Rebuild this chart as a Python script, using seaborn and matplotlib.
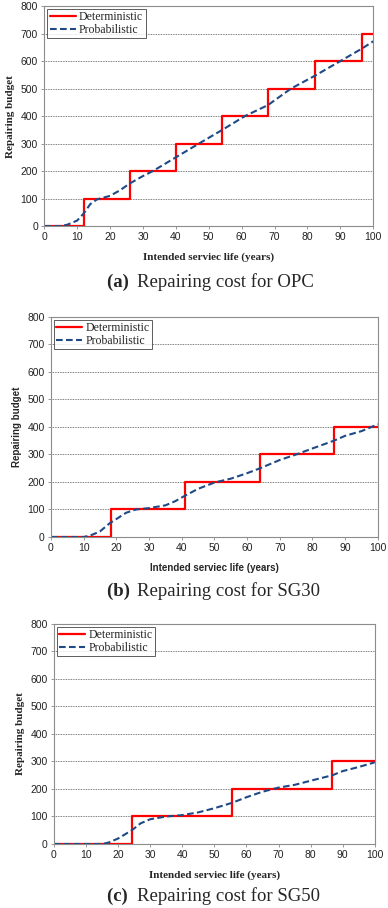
import numpy as np
import matplotlib
matplotlib.use("Agg")
import matplotlib.pyplot as plt
import seaborn as sns

# ---------- data ----------
# deterministic repair steps (year of repair -> cumulative budget)
opc_step_x = [0, 12, 26, 40, 54, 68, 82.3, 96.5, 100]
opc_step_y = [0, 100, 200, 300, 400, 500, 600, 700, 700]
sg30_step_x = [0, 18.3, 41, 64, 86.5, 100]
sg30_step_y = [0, 100, 200, 300, 400, 400]
sg50_step_x = [0, 24.3, 55.6, 86.8, 100]
sg50_step_y = [0, 100, 200, 300, 300]

# probabilistic expected budget
opc_prob_x = [0, 5, 7, 10, 12, 14, 16, 20, 23, 26, 30, 33, 40, 47, 54, 61, 68, 75, 82, 90, 96.5, 100]
opc_prob_y = [0, 0, 5, 20, 46, 80, 97, 110, 130, 155, 182, 200, 250, 300, 349, 400, 440, 500, 545, 600, 645, 672]
sg30_prob_x = [0, 10, 12, 15, 18, 20, 23, 26, 30, 35, 38, 41, 45, 50, 55, 60, 64, 70, 75, 80, 86.5, 90, 95, 100]
sg30_prob_y = [0, 0, 5, 20, 50, 65, 88, 100, 105, 115, 130, 150, 175, 198, 212, 232, 250, 280, 300, 322, 350, 368, 385, 410]
sg50_prob_x = [0, 15, 17, 20, 24.3, 27, 30, 35, 40, 45, 50, 55.6, 60, 65, 70, 75, 80, 86.8, 90, 95, 100]
sg50_prob_y = [0, 0, 5, 20, 50, 75, 90, 100, 105, 115, 130, 150, 170, 190, 205, 215, 230, 250, 265, 280, 297]

panels = [
    ("(a)", "Repairing cost for OPC", opc_step_x, opc_step_y, opc_prob_x, opc_prob_y, "serif"),
    ("(b)", "Repairing cost for SG30", sg30_step_x, sg30_step_y, sg30_prob_x, sg30_prob_y, "sans"),
    ("(c)", "Repairing cost for SG50", sg50_step_x, sg50_step_y, sg50_prob_x, sg50_prob_y, "serif"),
]

# axes rectangles in figure fractions [left, bottom, width, height]
rects = [
    [0.114, 0.751, 0.848, 0.2423],
    [0.131, 0.4086, 0.843, 0.2423],
    [0.139, 0.0705, 0.827, 0.2423],
]
caption_y = [0.684, 0.3436, 0.008]
caption_x = 0.276

sns.set_theme(style="white")
plt.rcParams["font.family"] = ["Liberation Sans", "DejaVu Sans"]

fig = plt.figure(figsize=(3.88, 9.08), dpi=100)

for (tag, cap, sx, sy, px, py, lab_font), rect, cy in zip(panels, rects, caption_y):
    ax = fig.add_axes(rect)
    sns.lineplot(x=sx, y=sy, ax=ax, color="#ff0000", lw=1.6,
                 drawstyle="steps-post", label="Deterministic")
    sns.lineplot(x=px, y=py, ax=ax, color="#1f4a86", lw=1.5,
                 linestyle=(0, (3.2, 1.6)), label="Probabilistic")

    ax.set_xlim(0, 100)
    ax.set_ylim(0, 800)
    ax.set_xticks(np.arange(0, 101, 10))
    ax.set_yticks(np.arange(0, 801, 100))
    ax.tick_params(labelsize=7.5, length=2.5, width=0.6, color="#888888",
                   direction="out", bottom=True, left=True, pad=2, labelcolor="#222222")
    ax.yaxis.grid(True, color="#555555", linestyle=(0, (1, 1)), lw=0.6)
    for s in ax.spines.values():
        s.set_color("#8c8c8c")
        s.set_linewidth(0.8)

    if lab_font == "serif":
        fam, fs = ["Liberation Serif"], 8
    else:
        fam, fs = ["Liberation Sans"], 7
    ax.set_ylabel("Repairing budget", fontsize=fs, fontweight="bold", family=fam, labelpad=4)
    ax.set_xlabel("Intended serviec life (years)", fontsize=fs, fontweight="bold", family=fam, labelpad=7)

    leg = ax.legend(loc="upper left", prop={"family": "Liberation Serif", "size": 8.5},
                    frameon=True, fancybox=False, borderpad=0.2, handlelength=2.2,
                    handletextpad=0.3, labelspacing=0.05, borderaxespad=0.25)
    leg.get_frame().set_edgecolor("#333333")
    leg.get_frame().set_linewidth(0.7)

    fig.text(caption_x, cy, tag + " ", ha="left", va="baseline", fontsize=13.5, fontweight="bold",
             family="Liberation Serif")
    fig.text(caption_x + 0.077, cy, cap, ha="left", va="baseline", fontsize=13.5,
             family="Liberation Serif")

fig.savefig("out.png", dpi=100)
